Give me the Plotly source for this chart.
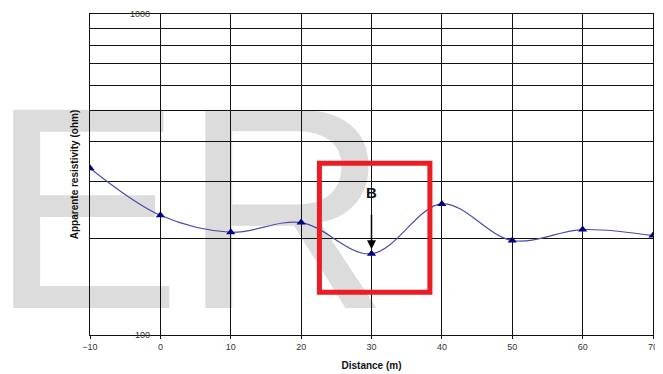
import math
import plotly.graph_objects as go

distance = [-10, 0, 10, 20, 30, 40, 50, 60, 70]
resistivity = [331, 236, 209, 224, 179, 256, 197, 213, 204]
x_ticks = [-10, 0, 10, 20, 30, 40, 50, 60, 70]
y_grid = [100, 200, 300, 400, 500, 600, 700, 800, 900, 1000]
y_labels = ["100", "1000"]

fig = go.Figure()
fig.add_trace(go.Scatter(
    x=distance, y=resistivity, mode="lines+markers",
    line=dict(shape="spline", smoothing=1, color="#4b4bab", width=1.2),
    marker=dict(symbol="triangle-up", size=8, color="#000080"),
    showlegend=False, hoverinfo="skip",
))

# the page body has an 8px margin, so the figure is 8px smaller
W, H = 655, 366
L, R, T, B = 81.5, 10, 6, 39

fig.update_layout(
    width=W, height=H,
    margin=dict(l=L, r=R, t=T, b=B, pad=0, autoexpand=False),
    paper_bgcolor="white", plot_bgcolor="white",
    font=dict(family="Liberation Sans, Arial, sans-serif", color="#222"),
    xaxis=dict(
        range=[-10, 70], tickvals=x_ticks, ticks="outside", ticklen=3,
        tickcolor="#111", showgrid=True, gridcolor="#111", gridwidth=1,
        showline=True, linecolor="#111", linewidth=1, mirror=True,
        zeroline=False, tickfont=dict(size=9, color="#333"), automargin=False,
        title=dict(text="<b>Distance (m)</b>", font=dict(size=10, color="#111"), standoff=11),
    ),
    yaxis=dict(
        type="log", range=[2, 3], tickvals=y_grid, showticklabels=False,
        showgrid=True, gridcolor="#111", gridwidth=1,
        showline=True, linecolor="#111", linewidth=1, mirror=True,
        zeroline=False, automargin=False,
        title=dict(text="<b>Apparente resistivity (ohm)</b>", font=dict(size=10, color="#111"), standoff=8),
    ),
)

# y-axis labels drawn inside, as in the reference
for v in y_labels:
    fig.add_annotation(x=0.11, xref="paper", y=math.log10(float(v)), yref="y",
                       text=v, showarrow=False, xanchor="right", yanchor="middle",
                       font=dict(size=9, color="#333"))

# watermark "ER" below gridlines
fig.add_shape(type="rect", xref="paper", yref="paper",
              x0=0.167, x1=0.187, y0=0.47, y1=0.49, layer="below",
              line=dict(width=0), fillcolor="rgba(0,0,0,0)",
              label=dict(text="ER", textposition="middle center",
                         font=dict(family="Liberation Sans, Arial", size=288, color="#dcdcdc")))

# red box
fig.add_shape(type="rect", xref="x", yref="y", x0=22.6, x1=38.3, y0=136, y1=343,
              line=dict(color="#ec1c24", width=5), layer="above")

# arrow and label B
fig.add_annotation(x=30, y=math.log10(185), xref="x", yref="y", ax=0, ay=-36,
                   axref="pixel", ayref="pixel", text="", showarrow=True,
                   arrowhead=2, arrowsize=1.2, arrowwidth=1.5, arrowcolor="#000")
fig.add_annotation(x=30, y=math.log10(185), xref="x", yref="y",
                   text="<b>B</b>", showarrow=False, yshift=57,
                   font=dict(size=15, color="#111"))

fig.write_html("out.html")
